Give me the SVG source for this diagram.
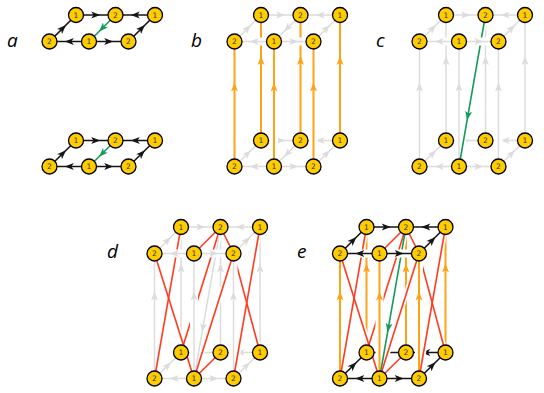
<svg xmlns="http://www.w3.org/2000/svg" width="544" height="393" viewBox="0 0 544 393">
<defs>
<style>
.h{fill:none;stroke:#fff;stroke-width:8}
.hr{fill:none;stroke:#fff;stroke-width:5}
.k{fill:none;stroke:#151515;stroke-width:1.6;marker-mid:url(#mk)}
.g{fill:none;stroke:#dcdcdc;stroke-width:1.5;marker-mid:url(#mg)}
.o{fill:none;stroke:#ffa216;stroke-width:2;marker-mid:url(#mo)}
.n{fill:none;stroke:#149a5b;stroke-width:1.6;marker-mid:url(#mn)}
.r{fill:none;stroke:#ff3c1e;stroke-width:1.6}
.nd circle{fill:#ffcc00;stroke:#000;stroke-width:1.3}
.nd text{font-family:"DejaVu Sans",sans-serif;font-size:7.5px;text-anchor:middle;fill:#333}
.lb{font-family:"Open Sans",sans-serif;font-style:italic;font-size:19px;fill:#000}
</style>
<marker id="mk" viewBox="-5 -4 10 8" markerWidth="10" markerHeight="8" orient="auto" markerUnits="userSpaceOnUse"><path d="M4.5,0L-4.5,-3.5L-2.3,0L-4.5,3.5Z" fill="#151515"/></marker>
<marker id="mg" viewBox="-5 -4 10 8" markerWidth="10" markerHeight="8" orient="auto" markerUnits="userSpaceOnUse"><path d="M4.5,0L-4.5,-3.5L-2.3,0L-4.5,3.5Z" fill="#dcdcdc"/></marker>
<marker id="mo" viewBox="-5 -4 10 8" markerWidth="10" markerHeight="8" orient="auto" markerUnits="userSpaceOnUse"><path d="M4.5,0L-4.5,-3.5L-2.3,0L-4.5,3.5Z" fill="#ffa216"/></marker>
<marker id="mn" viewBox="-5 -4 10 8" markerWidth="10" markerHeight="8" orient="auto" markerUnits="userSpaceOnUse"><path d="M4.5,0L-4.5,-3.5L-2.3,0L-4.5,3.5Z" fill="#149a5b"/></marker>
</defs>
<rect width="544" height="393" fill="#fff"/>
<g id="labels">
<text class="lb" x="7" y="47">a</text>
<text class="lb" x="191" y="47">b</text>
<text class="lb" x="376" y="47">c</text>
<text class="lb" x="107" y="258">d</text>
<text class="lb" x="297" y="258">e</text>
</g>
<g id="connectors">
<g id="conn-a" transform="translate(76,15)">
<path class="k" d="M0,0L19.75,0L39.5,0"/>
<path class="k" d="M79,0L59.25,0L39.5,0"/>
<path class="k" d="M13,26.5L-6.75,26.5L-26.5,26.5"/>
<path class="k" d="M13,26.5L32.75,26.5L52.5,26.5"/>
<path class="k" d="M-26.5,26.5L-13.25,13.25L0,0"/>
<path class="k" d="M52.5,26.5L65.75,13.25L79,0"/>
<path class="n" d="M39.5,0L26.25,13.25L13,26.5"/>
<path class="k" d="M0,125.5L19.75,125.5L39.5,125.5"/>
<path class="k" d="M79,125.5L59.25,125.5L39.5,125.5"/>
<path class="k" d="M13,151.5L-6.75,151.5L-26.5,151.5"/>
<path class="k" d="M13,151.5L32.75,151.5L52.5,151.5"/>
<path class="k" d="M-26.5,151.5L-13.25,138.5L0,125.5"/>
<path class="k" d="M52.5,151.5L65.75,138.5L79,125.5"/>
<path class="n" d="M39.5,125.5L26.25,138.5L13,151.5"/>
</g>
<g id="conn-b" transform="translate(261,15)">
<path class="g" d="M0,0L19.75,0L39.5,0"/>
<path class="g" d="M79,0L59.25,0L39.5,0"/>
<path class="g" d="M0,125.5L19.75,125.5L39.5,125.5"/>
<path class="g" d="M79,125.5L59.25,125.5L39.5,125.5"/>
<path class="o" d="M0,125.5L0,45.5L0,0"/>
<path class="o" d="M39.5,125.5L39.5,45.5L39.5,0"/>
<path class="o" d="M79,125.5L79,45.5L79,0"/>
<path class="g" d="M-26.5,26.5L-13.25,13.25L0,0"/>
<path class="g" d="M52.5,26.5L65.75,13.25L79,0"/>
<path class="g" d="M39.5,0L26.25,13.25L13,26.5"/>
<path class="g" d="M-26.5,151.5L-13.25,138.5L0,125.5"/>
<path class="g" d="M52.5,151.5L65.75,138.5L79,125.5"/>
<path class="g" d="M39.5,125.5L26.25,138.5L13,151.5"/>
<path class="h" d="M-26.5,151.5L-26.5,26.5"/><path class="o" d="M-26.5,151.5L-26.5,72L-26.5,26.5"/>
<path class="h" d="M13,151.5L13,26.5"/><path class="o" d="M13,151.5L13,72L13,26.5"/>
<path class="h" d="M52.5,151.5L52.5,26.5"/><path class="o" d="M52.5,151.5L52.5,72L52.5,26.5"/>
<path class="h" d="M13,151.5L-26.5,151.5"/><path class="g" d="M13,151.5L-6.75,151.5L-26.5,151.5"/>
<path class="h" d="M13,151.5L52.5,151.5"/><path class="g" d="M13,151.5L32.75,151.5L52.5,151.5"/>
<path class="h" d="M13,26.5L-26.5,26.5"/><path class="g" d="M13,26.5L-6.75,26.5L-26.5,26.5"/>
<path class="h" d="M13,26.5L52.5,26.5"/><path class="g" d="M13,26.5L32.75,26.5L52.5,26.5"/>
</g>
<g id="conn-c" transform="translate(446,15)">
<path class="g" d="M0,0L19.75,0L39.5,0"/>
<path class="g" d="M79,0L59.25,0L39.5,0"/>
<path class="g" d="M0,125.5L19.75,125.5L39.5,125.5"/>
<path class="g" d="M79,125.5L59.25,125.5L39.5,125.5"/>
<path class="g" d="M0,125.5L0,45.5L0,0"/>
<path class="g" d="M39.5,125.5L39.5,45.5L39.5,0"/>
<path class="g" d="M79,125.5L79,45.5L79,0"/>
<path class="g" d="M-26.5,26.5L-13.25,13.25L0,0"/>
<path class="g" d="M52.5,26.5L65.75,13.25L79,0"/>
<path class="g" d="M-26.5,151.5L-13.25,138.5L0,125.5"/>
<path class="g" d="M52.5,151.5L65.75,138.5L79,125.5"/>
<path class="hr" d="M39.5,0L13,151.5"/>
<path class="h" d="M-26.5,151.5L-26.5,26.5"/><path class="g" d="M-26.5,151.5L-26.5,72L-26.5,26.5"/>
<path class="h" d="M13,151.5L13,26.5"/><path class="g" d="M13,151.5L13,72L13,26.5"/>
<path class="h" d="M52.5,151.5L52.5,26.5"/><path class="g" d="M52.5,151.5L52.5,72L52.5,26.5"/>
<path class="h" d="M13,151.5L-26.5,151.5"/><path class="g" d="M13,151.5L-6.75,151.5L-26.5,151.5"/>
<path class="h" d="M13,151.5L52.5,151.5"/><path class="g" d="M13,151.5L32.75,151.5L52.5,151.5"/>
<path class="n" d="M39.5,0L21.9,100.7L13,151.5"/>
<path class="h" d="M13,26.5L-26.5,26.5"/><path class="g" d="M13,26.5L-6.75,26.5L-26.5,26.5"/>
<path class="h" d="M13,26.5L52.5,26.5"/><path class="g" d="M13,26.5L32.75,26.5L52.5,26.5"/>
</g>
<g id="conn-d" transform="translate(181,227)">
<path class="g" d="M0,0L19.75,0L39.5,0"/>
<path class="g" d="M79,0L59.25,0L39.5,0"/>
<path class="g" d="M0,125.5L19.75,125.5L39.5,125.5"/>
<path class="g" d="M79,125.5L59.25,125.5L39.5,125.5"/>
<path class="g" d="M0,125.5L0,41L0,0"/>
<path class="g" d="M39.5,125.5L39.5,41L39.5,0"/>
<path class="g" d="M79,125.5L79,41L79,0"/>
<path class="g" d="M-26.5,26.5L-13.25,13.25L0,0"/>
<path class="g" d="M52.5,26.5L65.75,13.25L79,0"/>
<path class="g" d="M-26.5,151.5L-13.25,138.5L0,125.5"/>
<path class="g" d="M52.5,151.5L65.75,138.5L79,125.5"/>
<path class="hr" d="M39.5,0L13,151.5"/>
<path class="hr" d="M0,0L-26.5,151.5"/>
<path class="hr" d="M-26.5,26.5L13,151.5"/>
<path class="hr" d="M39.5,0L13,26.5"/>
<path class="hr" d="M39.5,0L0,125.5"/>
<path class="hr" d="M39.5,0L52.5,26.5"/>
<path class="hr" d="M52.5,26.5L13,151.5"/>
<path class="hr" d="M39.5,125.5L13,151.5"/>
<path class="hr" d="M79,0L52.5,151.5"/>
<path class="hr" d="M79,125.5L52.5,26.5"/>
<path class="r" d="M39.5,0L0,125.5"/>
<path class="r" d="M79,125.5L52.5,26.5"/>
<path class="h" d="M-26.5,151.5L-26.5,26.5"/><path class="g" d="M-26.5,151.5L-26.5,69L-26.5,26.5"/>
<path class="h" d="M13,151.5L13,26.5"/><path class="g" d="M13,151.5L13,69L13,26.5"/>
<path class="h" d="M52.5,151.5L52.5,26.5"/><path class="g" d="M52.5,151.5L52.5,69L52.5,26.5"/>
<path class="h" d="M13,151.5L-26.5,151.5"/><path class="g" d="M13,151.5L-6.75,151.5L-26.5,151.5"/>
<path class="h" d="M13,151.5L52.5,151.5"/><path class="g" d="M13,151.5L32.75,151.5L52.5,151.5"/>
<path class="g" d="M39.5,0L21.9,100.7L13,151.5"/>
<path class="r" d="M0,0L-26.5,151.5"/>
<path class="r" d="M-26.5,26.5L13,151.5"/>
<path class="r" d="M39.5,0L13,26.5"/>
<path class="r" d="M39.5,0L52.5,26.5"/>
<path class="r" d="M52.5,26.5L13,151.5"/>
<path class="r" d="M39.5,125.5L13,151.5"/>
<path class="r" d="M79,0L52.5,151.5"/>
<path class="h" d="M13,26.5L-26.5,26.5"/><path class="g" d="M13,26.5L-6.75,26.5L-26.5,26.5"/>
<path class="h" d="M13,26.5L52.5,26.5"/><path class="g" d="M13,26.5L32.75,26.5L52.5,26.5"/>
</g>
<g id="conn-e" transform="translate(366.5,227)">
<path class="k" d="M0,0L19.75,0L39.5,0"/>
<path class="k" d="M79,0L59.25,0L39.5,0"/>
<path class="k" d="M0,125.5L19.75,125.5L39.5,125.5"/>
<path class="k" d="M79,125.5L59.25,125.5L39.5,125.5"/>
<path class="o" d="M0,125.5L0,41L0,0"/>
<path class="o" d="M39.5,125.5L39.5,41L39.5,0"/>
<path class="o" d="M79,125.5L79,41L79,0"/>
<path class="k" d="M-26.5,26.5L-13.25,13.25L0,0"/>
<path class="k" d="M52.5,26.5L65.75,13.25L79,0"/>
<path class="k" d="M-26.5,151.5L-13.25,138.5L0,125.5"/>
<path class="k" d="M52.5,151.5L65.75,138.5L79,125.5"/>
<path class="hr" d="M39.5,0L13,151.5"/>
<path class="hr" d="M0,0L-26.5,151.5"/>
<path class="hr" d="M-26.5,26.5L13,151.5"/>
<path class="hr" d="M39.5,0L13,26.5"/>
<path class="hr" d="M39.5,0L0,125.5"/>
<path class="hr" d="M39.5,0L52.5,26.5"/>
<path class="hr" d="M52.5,26.5L13,151.5"/>
<path class="hr" d="M39.5,125.5L13,151.5"/>
<path class="hr" d="M79,0L52.5,151.5"/>
<path class="hr" d="M79,125.5L52.5,26.5"/>
<path class="r" d="M39.5,0L0,125.5"/>
<path class="r" d="M79,125.5L52.5,26.5"/>
<path class="h" d="M-26.5,151.5L-26.5,26.5"/><path class="o" d="M-26.5,151.5L-26.5,69L-26.5,26.5"/>
<path class="h" d="M13,151.5L13,26.5"/><path class="o" d="M13,151.5L13,69L13,26.5"/>
<path class="h" d="M52.5,151.5L52.5,26.5"/><path class="o" d="M52.5,151.5L52.5,69L52.5,26.5"/>
<path class="h" d="M13,151.5L-26.5,151.5"/><path class="k" d="M13,151.5L-6.75,151.5L-26.5,151.5"/>
<path class="h" d="M13,151.5L52.5,151.5"/><path class="k" d="M13,151.5L32.75,151.5L52.5,151.5"/>
<path class="n" d="M39.5,0L21.9,100.7L13,151.5"/>
<path class="r" d="M0,0L-26.5,151.5"/>
<path class="r" d="M-26.5,26.5L13,151.5"/>
<path class="r" d="M39.5,0L13,26.5"/>
<path class="r" d="M39.5,0L52.5,26.5"/>
<path class="r" d="M52.5,26.5L13,151.5"/>
<path class="r" d="M39.5,125.5L13,151.5"/>
<path class="r" d="M79,0L52.5,151.5"/>
<path class="h" d="M13,26.5L-26.5,26.5"/><path class="k" d="M13,26.5L-6.75,26.5L-26.5,26.5"/>
<path class="h" d="M13,26.5L52.5,26.5"/><path class="k" d="M13,26.5L32.75,26.5L52.5,26.5"/>
</g>
</g>
<g id="nodes">
<g id="nodes-a" transform="translate(76,15)">
<g id="a-tb0" class="nd" transform="translate(0,0)"><circle r="7.5"/><text y="2.7">1</text></g>
<g id="a-tb1" class="nd" transform="translate(39.5,0)"><circle r="7.5"/><text y="2.7">2</text></g>
<g id="a-tb2" class="nd" transform="translate(79,0)"><circle r="7.5"/><text y="2.7">1</text></g>
<g id="a-tf0" class="nd" transform="translate(-26.5,26.5)"><circle r="7.5"/><text y="2.7">2</text></g>
<g id="a-tf1" class="nd" transform="translate(13,26.5)"><circle r="7.5"/><text y="2.7">1</text></g>
<g id="a-tf2" class="nd" transform="translate(52.5,26.5)"><circle r="7.5"/><text y="2.7">2</text></g>
<g id="a-bb0" class="nd" transform="translate(0,125.5)"><circle r="7.5"/><text y="2.7">1</text></g>
<g id="a-bb1" class="nd" transform="translate(39.5,125.5)"><circle r="7.5"/><text y="2.7">2</text></g>
<g id="a-bb2" class="nd" transform="translate(79,125.5)"><circle r="7.5"/><text y="2.7">1</text></g>
<g id="a-bf0" class="nd" transform="translate(-26.5,151.5)"><circle r="7.5"/><text y="2.7">2</text></g>
<g id="a-bf1" class="nd" transform="translate(13,151.5)"><circle r="7.5"/><text y="2.7">1</text></g>
<g id="a-bf2" class="nd" transform="translate(52.5,151.5)"><circle r="7.5"/><text y="2.7">2</text></g>
</g>
<g id="nodes-b" transform="translate(261,15)">
<g id="b-tb0" class="nd" transform="translate(0,0)"><circle r="7.5"/><text y="2.7">1</text></g>
<g id="b-tb1" class="nd" transform="translate(39.5,0)"><circle r="7.5"/><text y="2.7">2</text></g>
<g id="b-tb2" class="nd" transform="translate(79,0)"><circle r="7.5"/><text y="2.7">1</text></g>
<g id="b-tf0" class="nd" transform="translate(-26.5,26.5)"><circle r="7.5"/><text y="2.7">2</text></g>
<g id="b-tf1" class="nd" transform="translate(13,26.5)"><circle r="7.5"/><text y="2.7">1</text></g>
<g id="b-tf2" class="nd" transform="translate(52.5,26.5)"><circle r="7.5"/><text y="2.7">2</text></g>
<g id="b-bb0" class="nd" transform="translate(0,125.5)"><circle r="7.5"/><text y="2.7">1</text></g>
<g id="b-bb1" class="nd" transform="translate(39.5,125.5)"><circle r="7.5"/><text y="2.7">2</text></g>
<g id="b-bb2" class="nd" transform="translate(79,125.5)"><circle r="7.5"/><text y="2.7">1</text></g>
<g id="b-bf0" class="nd" transform="translate(-26.5,151.5)"><circle r="7.5"/><text y="2.7">2</text></g>
<g id="b-bf1" class="nd" transform="translate(13,151.5)"><circle r="7.5"/><text y="2.7">1</text></g>
<g id="b-bf2" class="nd" transform="translate(52.5,151.5)"><circle r="7.5"/><text y="2.7">2</text></g>
</g>
<g id="nodes-c" transform="translate(446,15)">
<g id="c-tb0" class="nd" transform="translate(0,0)"><circle r="7.5"/><text y="2.7">1</text></g>
<g id="c-tb1" class="nd" transform="translate(39.5,0)"><circle r="7.5"/><text y="2.7">2</text></g>
<g id="c-tb2" class="nd" transform="translate(79,0)"><circle r="7.5"/><text y="2.7">1</text></g>
<g id="c-tf0" class="nd" transform="translate(-26.5,26.5)"><circle r="7.5"/><text y="2.7">2</text></g>
<g id="c-tf1" class="nd" transform="translate(13,26.5)"><circle r="7.5"/><text y="2.7">1</text></g>
<g id="c-tf2" class="nd" transform="translate(52.5,26.5)"><circle r="7.5"/><text y="2.7">2</text></g>
<g id="c-bb0" class="nd" transform="translate(0,125.5)"><circle r="7.5"/><text y="2.7">1</text></g>
<g id="c-bb1" class="nd" transform="translate(39.5,125.5)"><circle r="7.5"/><text y="2.7">2</text></g>
<g id="c-bb2" class="nd" transform="translate(79,125.5)"><circle r="7.5"/><text y="2.7">1</text></g>
<g id="c-bf0" class="nd" transform="translate(-26.5,151.5)"><circle r="7.5"/><text y="2.7">2</text></g>
<g id="c-bf1" class="nd" transform="translate(13,151.5)"><circle r="7.5"/><text y="2.7">1</text></g>
<g id="c-bf2" class="nd" transform="translate(52.5,151.5)"><circle r="7.5"/><text y="2.7">2</text></g>
</g>
<g id="nodes-d" transform="translate(181,227)">
<g id="d-tb0" class="nd" transform="translate(0,0)"><circle r="7.5"/><text y="2.7">1</text></g>
<g id="d-tb1" class="nd" transform="translate(39.5,0)"><circle r="7.5"/><text y="2.7">2</text></g>
<g id="d-tb2" class="nd" transform="translate(79,0)"><circle r="7.5"/><text y="2.7">1</text></g>
<g id="d-tf0" class="nd" transform="translate(-26.5,26.5)"><circle r="7.5"/><text y="2.7">2</text></g>
<g id="d-tf1" class="nd" transform="translate(13,26.5)"><circle r="7.5"/><text y="2.7">1</text></g>
<g id="d-tf2" class="nd" transform="translate(52.5,26.5)"><circle r="7.5"/><text y="2.7">2</text></g>
<g id="d-bb0" class="nd" transform="translate(0,125.5)"><circle r="7.5"/><text y="2.7">1</text></g>
<g id="d-bb1" class="nd" transform="translate(39.5,125.5)"><circle r="7.5"/><text y="2.7">2</text></g>
<g id="d-bb2" class="nd" transform="translate(79,125.5)"><circle r="7.5"/><text y="2.7">1</text></g>
<g id="d-bf0" class="nd" transform="translate(-26.5,151.5)"><circle r="7.5"/><text y="2.7">2</text></g>
<g id="d-bf1" class="nd" transform="translate(13,151.5)"><circle r="7.5"/><text y="2.7">1</text></g>
<g id="d-bf2" class="nd" transform="translate(52.5,151.5)"><circle r="7.5"/><text y="2.7">2</text></g>
</g>
<g id="nodes-e" transform="translate(366.5,227)">
<g id="e-tb0" class="nd" transform="translate(0,0)"><circle r="7.5"/><text y="2.7">1</text></g>
<g id="e-tb1" class="nd" transform="translate(39.5,0)"><circle r="7.5"/><text y="2.7">2</text></g>
<g id="e-tb2" class="nd" transform="translate(79,0)"><circle r="7.5"/><text y="2.7">1</text></g>
<g id="e-tf0" class="nd" transform="translate(-26.5,26.5)"><circle r="7.5"/><text y="2.7">2</text></g>
<g id="e-tf1" class="nd" transform="translate(13,26.5)"><circle r="7.5"/><text y="2.7">1</text></g>
<g id="e-tf2" class="nd" transform="translate(52.5,26.5)"><circle r="7.5"/><text y="2.7">2</text></g>
<g id="e-bb0" class="nd" transform="translate(0,125.5)"><circle r="7.5"/><text y="2.7">1</text></g>
<g id="e-bb1" class="nd" transform="translate(39.5,125.5)"><circle r="7.5"/><text y="2.7">2</text></g>
<g id="e-bb2" class="nd" transform="translate(79,125.5)"><circle r="7.5"/><text y="2.7">1</text></g>
<g id="e-bf0" class="nd" transform="translate(-26.5,151.5)"><circle r="7.5"/><text y="2.7">2</text></g>
<g id="e-bf1" class="nd" transform="translate(13,151.5)"><circle r="7.5"/><text y="2.7">1</text></g>
<g id="e-bf2" class="nd" transform="translate(52.5,151.5)"><circle r="7.5"/><text y="2.7">2</text></g>
</g>
</g>
</svg>
